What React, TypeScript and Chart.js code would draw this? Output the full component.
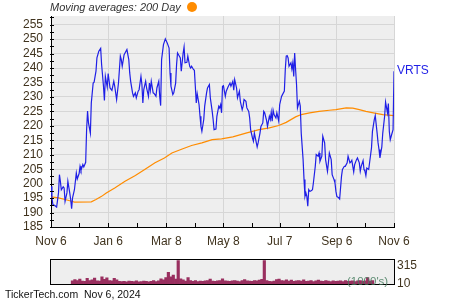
import React, { useEffect, useRef } from 'react';
import { Chart, registerables } from 'chart.js';
Chart.register(...registerables);

// X axis: days since Nov 6, 2023
const xTickDays = [0, 61, 123, 184, 244, 305, 366];
const xTickLabels = ['Nov 6', 'Jan 6', 'Mar 8', 'May 8', 'Jul 7', 'Sep 6', 'Nov 6'];
const xMinorDays = [30, 92, 154, 214, 275, 335];
const yTicks = [185, 190, 195, 200, 205, 210, 215, 220, 225, 230, 235, 240, 245, 250, 255];
const volTicks = [10, 315];

const priceDays = [
  0, 1, 2, 4, 6, 8, 9, 10, 11, 13, 14, 15, 17, 18, 20, 21, 22, 23, 25, 27, 28, 30, 31, 32, 34, 35, 37, 38, 39, 40,
  42, 43, 45, 46, 48, 49, 51, 53, 54, 56, 57, 58, 60, 61, 63, 64, 65, 67, 68, 70, 72, 74, 75, 76, 78, 79, 81, 83, 84, 85,
  87, 88, 90, 91, 93, 94, 96, 97, 98, 99, 101, 102, 104, 105, 106, 107, 109, 110, 112, 113, 115, 116, 117, 118, 120, 122, 124, 126, 127, 128,
  130, 131, 133, 134, 135, 137, 138, 139, 141, 142, 143, 145, 146, 148, 149, 150, 152, 153, 154, 155, 156, 158, 159, 160, 161, 163, 164, 166, 167, 169,
  170, 172, 173, 174, 176, 177, 179, 180, 181, 182, 183, 184, 186, 187, 189, 191, 192, 194, 195, 196, 198, 199, 201, 202, 204, 205, 206, 208, 209, 211,
  212, 213, 215, 216, 217, 219, 220, 221, 223, 224, 226, 227, 228, 230, 231, 233, 234, 235, 236, 237, 238, 240, 241, 243, 244, 246, 247, 249, 250, 251,
  252, 253, 254, 256, 257, 258, 259, 260, 261, 262, 263, 265, 266, 267, 268, 269, 270, 271, 272, 273, 274, 275, 276, 277, 279, 280, 282, 283, 285, 286,
  287, 289, 290, 292, 293, 295, 296, 297, 299, 300, 302, 303, 304, 305, 307, 308, 310, 311, 313, 314, 316, 317, 319, 320, 321, 323, 324, 326, 327, 329,
  330, 331, 333, 334, 335, 336, 337, 339, 340, 342, 343, 345, 346, 348, 349, 350, 351, 353, 354, 356, 357, 359, 360, 361, 362, 363, 365, 366,
];
const priceVals = [
  199.1, 195.1, 192.8, 192.4, 191.9, 196.8, 203.1, 200.8, 197.9, 198.9, 198.5, 193.9, 196.8, 200.8, 196.8, 194.5, 191.3, 195.1, 197.9, 203.7, 201.6, 203.5, 206, 204.6, 206.6, 205.8, 207.4, 218.7, 225.1, 221,
  217.5, 227.9, 234.8, 235.1, 238.9, 243.5, 245.8, 246.8, 241.2, 233.7, 228.8, 237.1, 233.4, 238.1, 233.1, 233.1, 232.3, 235.4, 233.7, 229.1, 234.8, 244.1, 242.9, 240.6, 244.6, 245.2, 246.4, 242.9, 238.3, 235.4,
  231.4, 230.2, 231.4, 229.7, 232, 232.5, 237.1, 234.3, 227.9, 232.5, 235.4, 233.1, 230.2, 234.8, 232.3, 235.4, 231.4, 231.2, 230.2, 233.1, 235.4, 230.2, 227, 242.9, 248.1, 250.1, 248.7, 246.9, 238.3, 233.7,
  230.8, 231.4, 234.8, 241.2, 245.2, 244.1, 243.5, 238.9, 245.2, 247.3, 241.8, 242, 244.1, 240.6, 240, 240.6, 239.5, 239.2, 233.7, 227.9, 231.1, 227.3, 223.3, 219.8, 218.1, 222.2, 226.8, 231.4, 233.1, 234.3,
  229.7, 225, 222.2, 218.7, 218.9, 223.3, 226.8, 226.2, 227.3, 224.5, 233.7, 233.9, 230.2, 232, 233.5, 234.8, 233.7, 235.4, 232.3, 236, 233.1, 229.7, 232, 228.5, 225.6, 226.8, 229.1, 228.5, 226.2, 225,
  222.7, 218.7, 215.8, 214.7, 217.5, 214.3, 212.7, 214.1, 217.5, 219.8, 221, 225, 224.5, 221.9, 219.8, 223.3, 222.2, 224.7, 221.6, 225.4, 223.9, 222.7, 224.5, 221.6, 227.3, 230.2, 230.8, 232, 239.5, 244.1,
  244.3, 243.5, 240.6, 241.8, 239.7, 241.8, 237.1, 245.2, 239.5, 234.3, 226.2, 228.5, 226.8, 217.5, 212.9, 208.3, 201.4, 195.6, 196.8, 195.6, 192.2, 197.9, 197.4, 197.4, 197.9, 200.3, 206, 210.1, 209.5, 210.6,
  207.7, 209.5, 216.4, 214.1, 208.3, 204.3, 207.2, 210.6, 208.3, 203.1, 201.4, 200.3, 197.4, 195.6, 195.1, 194.7, 202.6, 204.9, 206, 206, 207.2, 209.5, 207.2, 207.5, 208.1, 204.1, 206.6, 208.3, 208.9, 207.2,
  204.3, 206, 208, 204.9, 204.3, 202.8, 205.4, 204.9, 207.4, 212.4, 218.1, 222.2, 223.5, 217.5, 214.1, 211.8, 208.9, 212.7, 217.5, 223.3, 228.2, 224.5, 227.7, 218.1, 215.2, 216.4, 218.7, 238.9,
];

const maDays = [0, 8, 15, 22, 25, 43, 48, 54, 59, 68, 79, 90, 100, 111, 121, 129, 140, 150, 161, 172, 182, 194, 208, 222, 233, 243, 251, 261, 267, 276, 286, 297, 304, 315, 322, 329, 336, 344, 354, 366];
const maVals = [195.4, 195.1, 194.5, 193.9, 193.6, 193.7, 194.5, 195.6, 196.8, 198.5, 200.8, 202.8, 204.9, 207.2, 208.9, 210.6, 212, 213.2, 214.1, 215.2, 215.5, 216.2, 217.5, 218.7, 219.3, 220.1, 221.2, 223.1, 223.9, 224.5, 225, 225.4, 225.6, 226.2, 226.1, 225.6, 225, 224.5, 223.9, 223.5];

// Volume (thousands), one bar every 3 days
const volVals = [
  55, 75, 60, 85, 50, 45, 95, 60, 70, 100, 55, 50, 120, 80, 105, 60, 55, 95, 70, 45,
  40, 45, 35, 50, 45, 40, 55, 35, 40, 50, 45, 38, 45, 60, 40, 55, 90, 70, 110, 200,
  120, 150, 85, 420, 90, 70, 50, 110, 60, 45, 60, 40, 50, 45, 55, 60, 85, 50, 45, 55,
  60, 90, 55, 50, 45, 55, 60, 50, 40, 60, 75, 55, 50, 45, 60, 55, 65, 80, 420, 60,
  45, 40, 50, 75, 85, 60, 55, 70, 50, 65, 45, 55, 60, 50, 70, 45, 50, 60, 40, 55,
  65, 50, 45, 60, 50, 40, 55, 45, 50, 55, 40, 60, 45, 50, 55, 40, 55, 60, 45, 55,
  110, 50, 60,
];
const volStepDays = 3;

const FONT = '"Liberation Sans", Arial, sans-serif';
const LABEL_COLOR = '#40331e';

export default function App() {
  const mainRef = useRef<HTMLCanvasElement | null>(null);
  const volRef = useRef<HTMLCanvasElement | null>(null);

  useEffect(() => {
    document.body.style.margin = '0';
    const bgPlugin = {
      id: 'bg',
      beforeDraw(chart: any) {
        const { ctx, chartArea } = chart;
        ctx.save();
        ctx.fillStyle = '#eeeeee';
        ctx.fillRect(chartArea.left, chartArea.top, chartArea.right - chartArea.left, chartArea.bottom - chartArea.top);
        ctx.restore();
      },
    };
    const ticksPlugin = {
      id: 'innerTicks',
      afterDraw(chart: any) {
        const { ctx, chartArea } = chart;
        const xs = chart.scales.x;
        const ys = chart.scales.y;
        ctx.save();
        ctx.strokeStyle = '#000';
        ctx.lineWidth = 1;
        ctx.beginPath();
        const yAll: number[] = [];
        yTicks.forEach((t) => { yAll.push(t); yAll.push(t + 2.5); });
        yAll.forEach((v) => {
          if (v > ys.max) return;
          const y = Math.round(ys.getPixelForValue(v)) + 0.5;
          ctx.moveTo(chartArea.left - 1, y);
          ctx.lineTo(chartArea.left + 3, y);
        });
        [...xTickDays, ...xMinorDays].forEach((d) => {
          const x = Math.round(xs.getPixelForValue(d)) + 0.5;
          ctx.moveTo(x, chartArea.bottom - 4);
          ctx.lineTo(x, chartArea.bottom + 1);
        });
        ctx.stroke();
        // series label at last point
        const meta = chart.getDatasetMeta(0);
        const last = meta.data[meta.data.length - 1];
        ctx.fillStyle = '#1f1fe6';
        ctx.font = '12px ' + FONT;
        ctx.textAlign = 'left';
        ctx.textBaseline = 'middle';
        ctx.fillText('VRTS', last.x + 3, last.y - 1);
        ctx.restore();
      },
    };

    const main = new Chart(mainRef.current!, {
      type: 'line',
      data: {
        datasets: [
          {
            label: 'VRTS',
            data: priceDays.map((d, i) => ({ x: d, y: priceVals[i] })),
            borderColor: '#1f1fe6',
            borderWidth: 1.2,
            pointRadius: 0,
            tension: 0,
          },
          {
            label: '200 Day',
            data: maDays.map((d, i) => ({ x: d, y: maVals[i] })),
            borderColor: '#ff8c00',
            borderWidth: 1.2,
            pointRadius: 0,
            tension: 0,
          },
        ],
      },
      options: {
        animation: false,
        responsive: false,
        layout: { padding: { top: 16, right: 56, left: 0, bottom: 0 } },
        plugins: { legend: { display: false }, tooltip: { enabled: false } },
        scales: {
          x: {
            type: 'linear',
            min: 0,
            max: 366,
            afterBuildTicks: (s: any) => { s.ticks = xTickDays.map((v) => ({ value: v })); },
            afterFit: (s: any) => { s.height = 23; },
            ticks: {
              autoSkip: false,
              maxRotation: 0,
              padding: 7,
              color: LABEL_COLOR,
              font: { family: FONT, size: 12 },
              callback: (v: any) => xTickLabels[xTickDays.indexOf(Number(v))] ?? '',
            },
            grid: { color: '#d6d6d6', drawTicks: false },
            border: { color: '#000', width: 1 },
          },
          y: {
            type: 'linear',
            min: 185,
            max: 258,
            afterBuildTicks: (s: any) => { s.ticks = yTicks.map((v) => ({ value: v })); },
            afterFit: (s: any) => { s.width = 51; },
            ticks: {
              autoSkip: false,
              padding: 8,
              color: LABEL_COLOR,
              font: { family: FONT, size: 12 },
            },
            grid: { color: '#d6d6d6', drawTicks: false },
            border: { color: '#000', width: 1 },
          },
        },
      } as any,
      plugins: [bgPlugin, ticksPlugin],
    });

    const borderPlugin = {
      id: 'volBorder',
      afterDraw(chart: any) {
        const { ctx, chartArea } = chart;
        ctx.save();
        ctx.strokeStyle = '#000';
        ctx.lineWidth = 1;
        ctx.strokeRect(Math.round(chartArea.left) - 0.5, Math.round(chartArea.top) - 0.5, Math.round(chartArea.right - chartArea.left) + 1, Math.round(chartArea.bottom - chartArea.top) + 1);
        ctx.restore();
      },
    };

    const vol = new Chart(volRef.current!, {
      type: 'bar',
      data: {
        datasets: [
          {
            data: volVals.map((v, i) => ({ x: i * volStepDays, y: v })),
            backgroundColor: '#992f5f',
            barThickness: 2.5,
          },
        ],
      },
      options: {
        animation: false,
        responsive: false,
        layout: { padding: { top: 7, left: 51, bottom: 16, right: 0 } },
        plugins: { legend: { display: false }, tooltip: { enabled: false } },
        scales: {
          x: { type: 'linear', min: 0, max: 366, display: false },
          y: {
            position: 'right',
            min: 0,
            max: 405,
            afterBuildTicks: (s: any) => { s.ticks = volTicks.map((v) => ({ value: v })); },
            afterFit: (s: any) => { s.width = 56; },
            ticks: { autoSkip: false, padding: 3, color: LABEL_COLOR, font: { family: FONT, size: 12 } },
            grid: { display: false, drawTicks: false },
            border: { display: false },
          },
        },
      } as any,
      plugins: [bgPlugin, borderPlugin],
    });

    return () => {
      main.destroy();
      vol.destroy();
    };
  }, []);

  return (
    <div style={{ position: 'relative', width: 450, height: 300, background: '#fff', fontFamily: FONT, overflow: 'hidden' }}>
      <canvas ref={mainRef} width={450} height={250} style={{ position: 'absolute', left: 0, top: 0, width: 450, height: 250 }} />
      <canvas ref={volRef} width={450} height={50} style={{ position: 'absolute', left: 0, top: 250, width: 450, height: 50 }} />
      <div style={{ position: 'absolute', left: 50, top: 0, fontSize: 11, fontStyle: 'italic', color: '#333', lineHeight: '14px', whiteSpace: 'nowrap' }}>
        Moving averages: 200 Day
      </div>
      <div style={{ position: 'absolute', left: 187, top: 2, width: 10, height: 10, borderRadius: '50%', background: '#ff8c00' }} />
      <div style={{ position: 'absolute', left: 347, top: 274, fontSize: 11.5, color: 'rgba(70,125,95,0.85)', lineHeight: '14px', whiteSpace: 'nowrap' }}>
        (1000's)
      </div>
      <div style={{ position: 'absolute', left: 5, top: 288, fontSize: 10.5, color: '#111', lineHeight: '12px', whiteSpace: 'pre' }}>
        {'TickerTech.com  Nov 6, 2024'}
      </div>
    </div>
  );
}
